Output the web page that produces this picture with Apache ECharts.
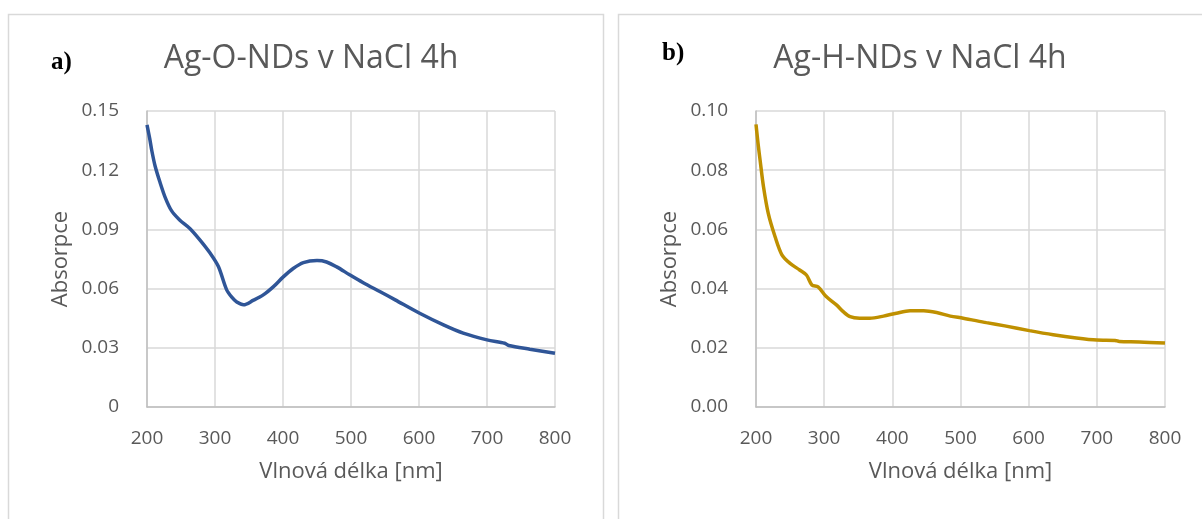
<!DOCTYPE html>
<html>
<head>
<meta charset="utf-8">
<script src="https://cdn.jsdelivr.net/npm/echarts@6/dist/echarts.min.js"></script>
<style>
html,body{margin:0;padding:0;background:#fff;}
#c{width:1202px;height:519px;}
</style>
</head>
<body>
<div id="c"></div>
<script>
// Panel a) Ag-O-NDs v NaCl 4h
const wlA = [200,204,207,212,219,227,236,248,263,278,293,305,317,325,332,342,356,371,386,400,415,430,450,464,479,498,518,543,565,601,636,665,700,726,732,763,800];
const absA = [0.143,0.136,0.130,0.122,0.114,0.106,0.0995,0.0948,0.0905,0.0846,0.0779,0.0712,0.0595,0.0555,0.0532,0.0518,0.0540,0.0568,0.0610,0.0658,0.0702,0.0732,0.0742,0.0735,0.0710,0.0670,0.0630,0.0584,0.0543,0.0475,0.0416,0.0374,0.0340,0.0323,0.0312,0.0293,0.0272];
// Panel b) Ag-H-NDs v NaCl 4h
const wlB = [200,203,206,211,218,228,238,250,264,274,282,291,303,318,328,338,352,367,387,406,426,446,465,485,504,538,565,601,636,670,700,727,733,763,800];
const absB = [0.0955,0.0890,0.0834,0.0744,0.0654,0.0575,0.0514,0.0485,0.0463,0.0446,0.0412,0.0406,0.0373,0.0345,0.0322,0.0305,0.0300,0.0300,0.0307,0.0317,0.0325,0.0325,0.0319,0.0307,0.0300,0.0285,0.0274,0.0258,0.0244,0.0233,0.0226,0.0225,0.0221,0.0220,0.0216];

const titles = ["Ag-O-NDs v NaCl 4h", "Ag-H-NDs v NaCl 4h"];
const panelLabels = ["a)", "b)"];
const xName = "Vlnová délka [nm]";
const yName = "Absorpce";
const xTicks = {min: 200, max: 800, interval: 100};
const yTicksA = {min: 0, max: 0.15, interval: 0.03};
const yTicksB = {min: 0, max: 0.10, interval: 0.02};

const FONT = '"Open Sans", "Liberation Sans", sans-serif';
const TXT = '#595959';
const GRID = '#d9d9d9';

function pairs(xs, ys){ return xs.map((x,i)=>[x, ys[i]]); }

const chart = echarts.init(document.getElementById('c'), null, {renderer:'canvas'});

function xAxis(gi){
  return {
    type:'value', gridIndex:gi, min:xTicks.min, max:xTicks.max, interval:xTicks.interval,
    name:xName, nameLocation:'middle', nameGap:54,
    nameTextStyle:{color:TXT, fontSize:22, fontFamily:FONT},
    axisLine:{show:true, lineStyle:{color:'#bfbfbf', width:1.5}},
    axisTick:{show:false},
    axisLabel:{color:TXT, fontSize:19, fontFamily:FONT, margin:22},
    splitLine:{show:true, lineStyle:{color:GRID, width:1.5}}
  };
}
function yAxis(gi, t, fmt){
  return {
    type:'value', gridIndex:gi, min:t.min, max:t.max, interval:t.interval,
    name:yName, nameLocation:'middle', nameGap:gi===0?75:75, nameRotate:90,
    nameTextStyle:{color:TXT, fontSize:22, fontFamily:FONT},
    axisLine:{show:true, lineStyle:{color:'#bfbfbf', width:1.5}},
    axisTick:{show:false},
    axisLabel:{color:TXT, fontSize:19, fontFamily:FONT, margin:28, formatter:fmt},
    splitLine:{show:true, lineStyle:{color:GRID, width:1.5}}
  };
}

chart.setOption({
  animation:false,
  backgroundColor:'#fff',
  grid:[
    {left:147, top:111, width:408, height:296},
    {left:756, top:111, width:409, height:296}
  ],
  xAxis:[xAxis(0), xAxis(1)],
  yAxis:[
    yAxis(0, yTicksA, v => v===0 ? '0' : v.toFixed(2)),
    yAxis(1, yTicksB, v => v.toFixed(2))
  ],
  title:[
    {text:titles[0], left:306, top:38, textAlign:'center',
     textStyle:{color:TXT, fontSize:32, fontWeight:'normal', fontFamily:FONT}},
    {text:titles[1], left:915, top:38, textAlign:'center',
     textStyle:{color:TXT, fontSize:32, fontWeight:'normal', fontFamily:FONT}}
  ],
  graphic:[
    {type:'rect', shape:{x:8.5, y:14.5, width:595, height:530}, style:{fill:'none', stroke:'#d9d9d9', lineWidth:1.5}, silent:true},
    {type:'rect', shape:{x:618.5, y:14.5, width:620, height:530}, style:{fill:'none', stroke:'#d9d9d9', lineWidth:1.5}, silent:true},
    {type:'text', left:51, top:50, style:{text:panelLabels[0], fill:'#000', font:'bold 25px "Liberation Serif", serif'}},
    {type:'text', left:662, top:41, style:{text:panelLabels[1], fill:'#000', font:'bold 25px "Liberation Serif", serif'}}
  ],
  series:[
    {type:'line', xAxisIndex:0, yAxisIndex:0, data:pairs(wlA, absA), smooth:0.3, showSymbol:false,
     lineStyle:{color:'#2F5597', width:3.5}},
    {type:'line', xAxisIndex:1, yAxisIndex:1, data:pairs(wlB, absB), smooth:0.3, showSymbol:false,
     lineStyle:{color:'#BF9000', width:3.5}}
  ]
});
</script>
</body>
</html>
